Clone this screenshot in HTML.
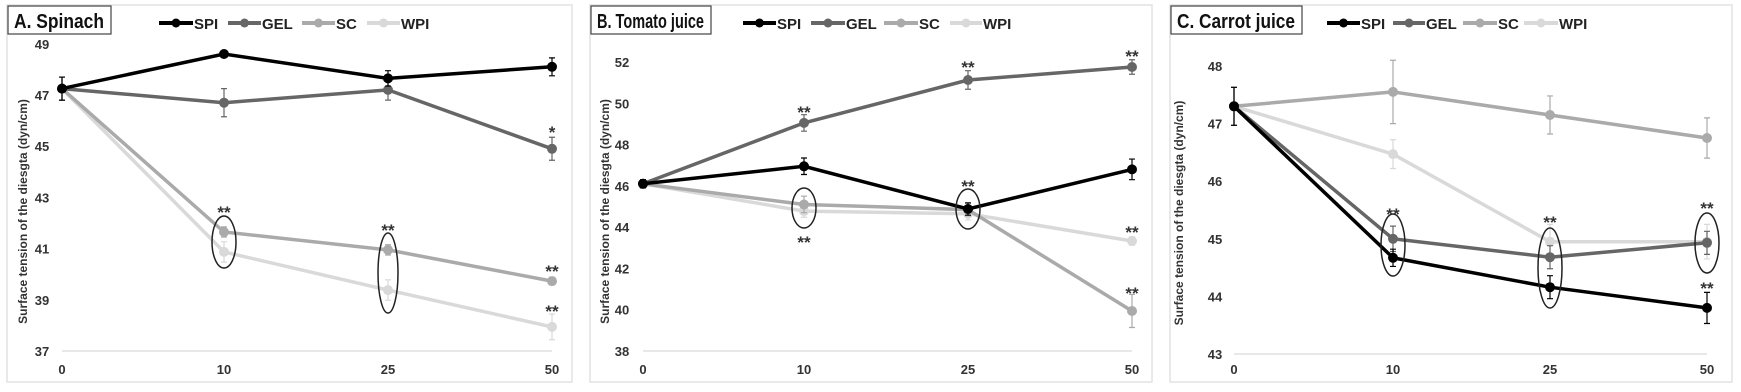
<!DOCTYPE html>
<html><head><meta charset="utf-8"><style>
html,body{margin:0;padding:0;background:#fff;width:1741px;height:392px;overflow:hidden}
svg{display:block;font-family:"Liberation Sans",sans-serif}
</style></head><body>
<svg id="s" width="1741" height="392" viewBox="0 0 1741 392" xmlns="http://www.w3.org/2000/svg"></svg>
<script>
const S=document.getElementById('s');
let h='';
const col={SPI:'#000',GEL:'#666',SC:'#aaa',WPI:'#d9d9d9'};
function panel(p){
  h+=`<rect x="${p.bx1}" y="5" width="${p.bx2-p.bx1}" height="377" fill="none" stroke="#e2e2e2" stroke-width="1.5"/>`;
  h+=`<rect x="${p.bx1+1}" y="6" width="${p.tw}" height="28" fill="#fff" stroke="#444" stroke-width="1.2"/>`;
  h+=`<text x="${p.bx1+7}" y="28" font-size="20" font-weight="bold" fill="#111" textLength="${p.tw-13}" lengthAdjust="spacingAndGlyphs">${p.title}</text>`;
  ['SPI','GEL','SC','WPI'].forEach((k,i)=>{const L=p.leg[i];
    h+=`<line x1="${L[0]}" y1="23" x2="${L[1]}" y2="23" stroke="${col[k]}" stroke-width="4"/><circle cx="${(L[0]+L[1])/2}" cy="23" r="4.5" fill="${col[k]}"/>`;
    h+=`<text x="${L[1]+1}" y="29" font-size="15" font-weight="bold" fill="#222">${k}</text>`;});
  const y=v=>p.y0-(v-p.vmin)*p.k;
  p.ticks.forEach(t=>{h+=`<text x="${p.lx}" y="${y(t)+5}" font-size="13" font-weight="bold" fill="#333" text-anchor="middle">${t}</text>`;});
  h+=`<line x1="${p.xs[0]}" y1="${p.y0}" x2="${p.xs[3]}" y2="${p.y0}" stroke="#d9d9d9" stroke-width="1.2"/>`;
  ['0','10','25','50'].forEach((t,i)=>{h+=`<text x="${p.xs[i]}" y="374" font-size="13" font-weight="bold" fill="#333" text-anchor="middle">${t}</text>`;});
  h+=`<text transform="translate(${p.tx},${(p.y0+48)/2+12}) rotate(-90)" font-size="12" font-weight="bold" fill="#333" text-anchor="middle">Surface tension of the diesgta (dyn/cm)</text>`;
  ['WPI','SC','GEL','SPI'].forEach(k=>{const d=p.d[k],e=p.e[k];
    let pts=d.map((v,i)=>`${p.xs[i]},${y(v).toFixed(1)}`).join(' ');
    h+=`<polyline points="${pts}" fill="none" stroke="${col[k]}" stroke-width="3.5"/>`;
    d.forEach((v,i)=>{const er=e[i]*p.k,cy=y(v),cx=p.xs[i];
      if(er>1){h+=`<path d="M${cx},${cy-er}V${cy+er}M${cx-3},${cy-er}h6M${cx-3},${cy+er}h6" stroke="${col[k]}" stroke-width="1.2" fill="none"/>`;}
      h+=`<circle cx="${cx}" cy="${cy.toFixed(1)}" r="5" fill="${col[k]}"/>`;});
  });
  p.ell.forEach(E=>{h+=`<ellipse cx="${E[0]}" cy="${E[1]}" rx="${E[2]}" ry="${E[3]}" fill="none" stroke="#222" stroke-width="1.5"/>`;});
  p.st.forEach(s=>{h+=`<text x="${s[0]}" y="${s[1]+8}" font-size="17" font-weight="bold" fill="#333" text-anchor="middle">${s[2]||'**'}</text>`;});
}
panel({bx1:7,bx2:572,tw:103,title:'A. Spinach',leg:[[159,193],[228,261],[302,335],[367,400]],
 y0:351,vmin:37,k:25.6,lx:42,tx:27,ticks:[37,39,41,43,45,47,49],xs:[62,224,388,552],
 d:{SPI:[47.25,48.6,47.65,48.1],GEL:[47.25,46.7,47.2,44.9],SC:[47.25,41.65,40.95,39.73],WPI:[47.25,40.87,39.38,37.94]},
 e:{SPI:[0.45,0.1,0.3,0.35],GEL:[0.45,0.55,0.4,0.45],SC:[0.45,0.2,0.2,0.15],WPI:[0.45,0.4,0.4,0.5]},
 ell:[[224,242,12,26],[388,273,10,40]],st:[[224,210],[388,228],[552,130,'*'],[552,269],[552,309]]});
panel({bx1:590,bx2:1152,tw:120,title:'B. Tomato juice',leg:[[743,776],[811,845],[884,918],[950,982]],
 y0:351,vmin:38,k:20.64,lx:622,tx:609,ticks:[38,40,42,44,46,48,50,52],xs:[643,804,968,1132],
 d:{SPI:[46.1,46.95,44.88,46.8],GEL:[46.1,49.05,51.13,51.76],SC:[46.1,45.1,44.85,39.94],WPI:[46.1,44.78,44.65,43.33]},
 e:{SPI:[0.2,0.4,0.3,0.5],GEL:[0.2,0.4,0.45,0.35],SC:[0.2,0.4,0.3,0.8],WPI:[0.2,0.3,0.3,0.2]},
 ell:[[804,208,12,20],[968,209,12,20]],st:[[804,110],[968,65],[1132,54],[804,240],[968,184],[1132,230],[1132,291]]});
panel({bx1:1170,bx2:1732,tw:131,title:'C. Carrot juice',leg:[[1327,1360],[1393,1425],[1463,1497],[1524,1558]],
 y0:354,vmin:43,k:57.6,lx:1215,tx:1183,ticks:[43,44,45,46,47,48],xs:[1234,1393,1550,1707],
 d:{SPI:[47.3,44.67,44.16,43.8],GEL:[47.3,45.0,44.68,44.93],SC:[47.3,47.55,47.15,46.75],WPI:[47.3,46.47,44.95,44.95]},
 e:{SPI:[0.33,0.15,0.2,0.27],GEL:[0.33,0.22,0.2,0.2],SC:[0.33,0.55,0.33,0.35],WPI:[0.33,0.25,0.3,0.3]},
 ell:[[1393,245,12,31],[1550,268,12,40],[1707,243,12,30]],st:[[1393,212],[1550,220],[1707,206],[1707,286]]});
S.innerHTML=h;
</script>
</body></html>
